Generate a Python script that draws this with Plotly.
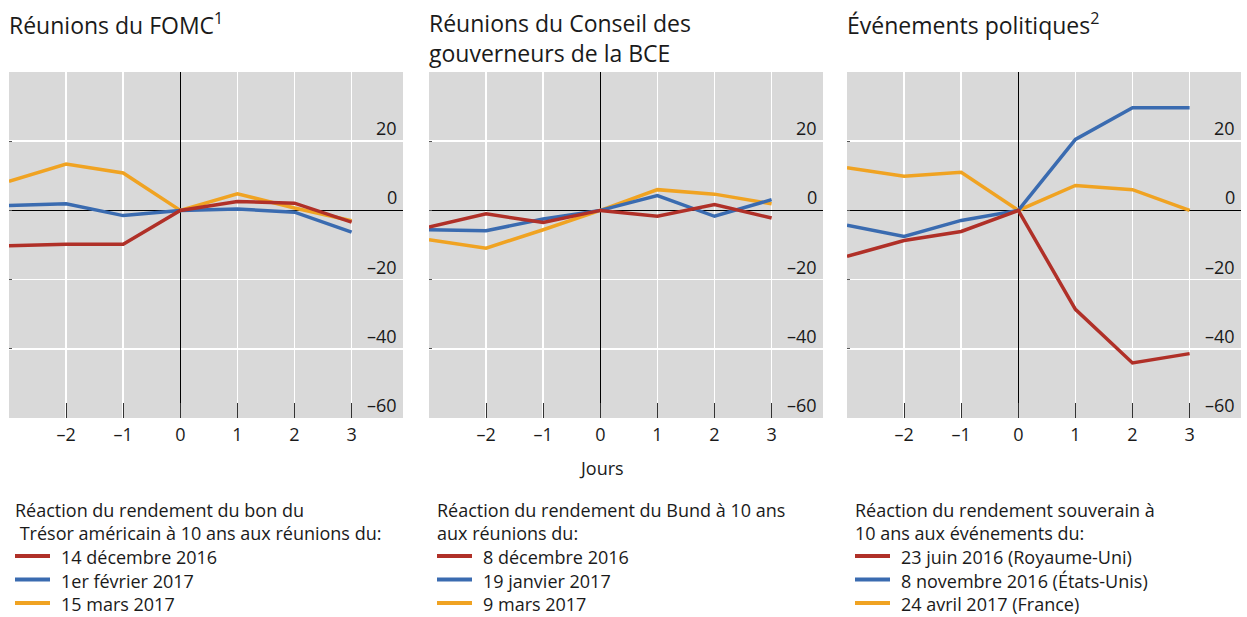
import plotly.graph_objects as go

# ---------------- data ----------------
days = [-3, -2, -1, 0, 1, 2, 3]
x_tickvals = [-2, -1, 0, 1, 2, 3]
x_ticktext = ["–2", "–1", "0", "1", "2", "3"]
y_tickvals = [-60, -40, -20, 0, 20]
y_ticktext = ["–60", "–40", "–20", "0", "20"]

# Panel 1: FOMC meetings
fomc_dec2016 = [-10.2, -9.8, -9.8, 0, 2.6, 2.1, -3.4]
fomc_feb2017 = [1.4, 1.9, -1.5, 0, 0.4, -0.5, -6.3]
fomc_mar2017 = [8.4, 13.4, 10.8, 0, 4.8, 0.7, -3.0]
# Panel 2: ECB Governing Council meetings
bce_dec2016 = [-4.8, -1.0, -3.5, 0, -1.7, 1.7, -2.2]
bce_jan2017 = [-5.6, -5.9, -2.5, 0, 4.3, -1.7, 3.1]
bce_mar2017 = [-8.5, -10.9, -5.6, 0, 6.0, 4.7, 1.9]
# Panel 3: political events
pol_uk = [-13.3, -8.7, -6.1, 0, -28.6, -44.1, -41.4]
pol_us = [-4.3, -7.5, -2.9, 0, 20.5, 29.7, 29.7]
pol_fr = [12.3, 9.9, 11.0, 0, 7.2, 6.0, 0.0]

titles = ["Réunions du FOMC<sup>1</sup>",
          "Réunions du Conseil des<br>gouverneurs de la BCE",
          "Événements politiques<sup>2</sup>"]
legend_titles = ["Réaction du rendement du bon du<br>\u00a0Trésor américain à 10 ans aux réunions du:",
                 "Réaction du rendement du Bund à 10 ans<br>aux réunions du:",
                 "Réaction du rendement souverain à<br>10 ans aux événements du:"]
panels = [
    [("14 décembre 2016", fomc_dec2016), ("1er février 2017", fomc_feb2017), ("15 mars 2017", fomc_mar2017)],
    [("8 décembre 2016", bce_dec2016), ("19 janvier 2017", bce_jan2017), ("9 mars 2017", bce_mar2017)],
    [("23 juin 2016 (Royaume-Uni)", pol_uk), ("8 novembre 2016 (États-Unis)", pol_us), ("24 avril 2017 (France)", pol_fr)],
]

# ---------------- style ----------------
W, H = 1247, 617
RED, BLUE, ORANGE = "#B03028", "#3A6BB0", "#F0A322"
colors = [RED, BLUE, ORANGE]
FONT = "Open Sans"
TXT = "#1a1a1a"
left_px = [9, 429, 847]
legend_left_px = [15, 437, 855]
plot_w = 394
top_px, bot_px = 72, 418

fig = go.Figure()

for i, series in enumerate(panels):
    xa = "x" if i == 0 else f"x{i+1}"
    ya = "y" if i == 0 else f"y{i+1}"
    # draw order: orange, blue, red (red on top)
    for k in [2, 1, 0]:
        name, vals = series[k]
        fig.add_trace(go.Scatter(
            x=days, y=vals, mode="lines", name=name,
            line=dict(color=colors[k], width=3.5),
            xaxis=xa, yaxis=ya, showlegend=False, hoverinfo="skip"))

layout = dict(
    width=W, height=H, autosize=False,
    margin=dict(l=0, r=0, t=0, b=0),
    paper_bgcolor="white", plot_bgcolor="#D9D9D9",
    font=dict(family=FONT, color=TXT, size=18),
    showlegend=False,
)

annotations = []
shapes = []


def py(px):
    return 1 - px / H


def pxx(px):
    return px / W


for i in range(3):
    sfx = "" if i == 0 else str(i + 1)
    x0 = left_px[i] / W
    x1 = (left_px[i] + plot_w) / W
    layout["xaxis" + sfx] = dict(
        domain=[x0, x1], range=[-3, 3.9], anchor="y" + sfx,
        tickvals=x_tickvals, ticktext=x_ticktext,
        ticks="inside", ticklen=15, tickcolor="#333333", tickwidth=1,
        minor=dict(tick0=-3, dtick=1, ticks="inside", ticklen=15,
                   tickcolor="#333333", tickwidth=1, showgrid=False),
        showgrid=True, gridcolor="white", gridwidth=1.5,
        zeroline=True, zerolinecolor="black", zerolinewidth=1,
        showline=False, tickfont=dict(size=18, color=TXT),
        ticklabelstandoff=4, fixedrange=True,
    )
    layout["yaxis" + sfx] = dict(
        domain=[py(bot_px), py(top_px)], range=[-60, 40], anchor="x" + sfx,
        tickvals=y_tickvals, showticklabels=False,
        ticks="inside", ticklen=3, tickcolor="#555555",
        showgrid=True, gridcolor="white", gridwidth=1.5,
        zeroline=True, zerolinecolor="black", zerolinewidth=1,
        showline=False, fixedrange=True,
    )
    # y tick labels, placed inside the plot just above each gridline
    for v, t in zip(y_tickvals, y_ticktext):
        annotations.append(dict(
            text=t, xref=f"x{sfx} domain", yref="y" + sfx,
            x=0.99, y=v, xanchor="right", yanchor="bottom", showarrow=False,
            font=dict(size=18, color=TXT), yshift=-1))
    # panel title
    annotations.append(dict(
        text=titles[i], xref="paper", yref="paper",
        x=pxx(left_px[i] - 2), y=py(5), xanchor="left", yanchor="top",
        align="left", showarrow=False, font=dict(size=23, color=TXT)))
    # legend block
    lx = legend_left_px[i]
    annotations.append(dict(
        text=legend_titles[i], xref="paper", yref="paper", x=pxx(lx - 2), y=py(521),
        xanchor="left", yanchor="middle", align="left", showarrow=False,
        font=dict(size=18, color=TXT)))
    for k, ((name, _), yc) in enumerate(zip(panels[i], [557, 580.5, 604])):
        shapes.append(dict(
            type="line", xref="paper", yref="paper",
            x0=pxx(lx), x1=pxx(lx + 35), y0=py(yc - 1), y1=py(yc - 1),
            line=dict(color=colors[k], width=4)))
        annotations.append(dict(
            text=name, xref="paper", yref="paper", x=pxx(lx + 44), y=py(yc),
            xanchor="left", yanchor="middle", showarrow=False,
            font=dict(size=18, color=TXT)))

annotations.append(dict(
    text="Jours", xref="paper", yref="paper", x=pxx(601), y=py(468),
    xanchor="center", yanchor="middle", showarrow=False,
    font=dict(size=18, color=TXT)))

layout["annotations"] = annotations
layout["shapes"] = shapes
fig.update_layout(**layout)

fig.write_html(
    "out.html", include_plotlyjs=True,
    config={"displayModeBar": False, "staticPlot": True},
    post_script=("document.documentElement.style.margin='0';"
                 "document.documentElement.style.overflow='hidden';"
                 "document.body.style.margin='0';"
                 "document.body.style.padding='0';"
                 "document.body.style.overflow='hidden';"))
